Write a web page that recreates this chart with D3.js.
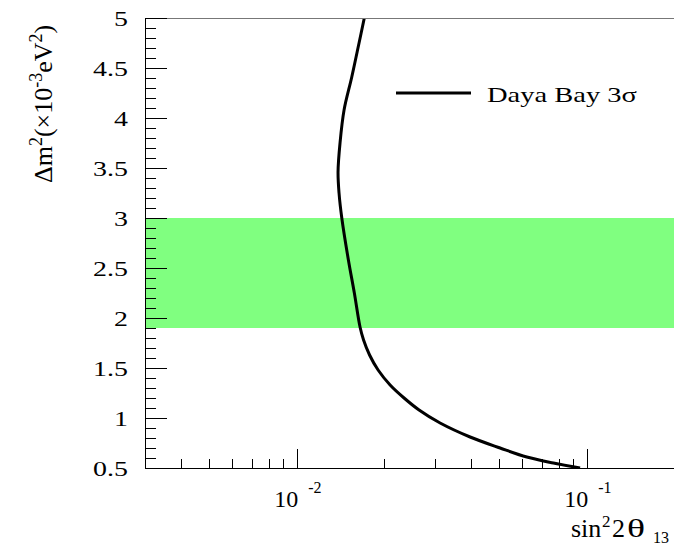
<!DOCTYPE html>
<html><head><meta charset="utf-8">
<script src="https://cdn.jsdelivr.net/npm/d3@7"></script>
<style>html,body{margin:0;padding:0;background:#fff;overflow:hidden}</style>
</head><body>
<script>
// ---- data ----
const curveX = [0.01711,0.01641,0.01549,0.01457,0.01411,0.01389,0.01400,0.01431,0.01508,0.01581,0.01654,0.01701,0.01784,0.01909,0.02100,0.02346,0.02643,0.03123,0.03963,0.05029,0.06216,0.07678,0.09489];
const curveY = [5.00,4.75,4.41,4.08,3.75,3.46,3.25,3.00,2.58,2.25,1.91,1.78,1.63,1.48,1.33,1.20,1.08,0.95,0.81,0.70,0.61,0.55,0.50];
const bandRange = [1.9, 3.0];
const xDomain = [0.003, 0.2];
const yDomain = [0.5, 5];
const yMajorTicks = [0.5,1,1.5,2,2.5,3,3.5,4,4.5,5];
const yTickLabels = ["0.5","1","1.5","2","2.5","3","3.5","4","4.5","5"];
const xMajorTicks = [0.01, 0.1];
const xTickExponents = ["-2","-1"];
const xMinorTicks = [0.004,0.005,0.006,0.007,0.008,0.009,0.02,0.03,0.04,0.05,0.06,0.07,0.08,0.09];
const legendLabel = "Daya Bay 3σ";

const W = 674, H = 546;
const L = 145, R = 674, T = 18, B = 468;
const svg = d3.select("body").append("svg").attr("width", W).attr("height", H)
  .style("font-family", "'Liberation Serif','Times New Roman',serif");

const x = d3.scaleLog().domain(xDomain).range([L, R]);
const y = d3.scaleLinear().domain(yDomain).range([B, T]);

svg.append("defs").append("clipPath").attr("id","clip")
  .append("rect").attr("x", L).attr("y", T).attr("width", R - L + 2).attr("height", B - T);

// band
svg.append("rect").attr("x", L).attr("width", R - L + 2)
  .attr("y", y(bandRange[1])).attr("height", y(bandRange[0]) - y(bandRange[1]))
  .attr("fill", "#80ff80");

// curve
const pts = curveX.map((v, i) => [v, curveY[i]]);
svg.append("path").datum(pts)
  .attr("clip-path", "url(#clip)")
  .attr("fill", "none").attr("stroke", "#000").attr("stroke-width", 3)
  .attr("stroke-linejoin", "round")
  .attr("d", d3.line().x(d => x(d[0])).y(d => y(d[1])).curve(d3.curveCatmullRom.alpha(0.5)));

// top frame
svg.append("line").attr("x1", L).attr("x2", W).attr("y1", T + 0.5).attr("y2", T + 0.5)
  .attr("stroke", "#777").attr("stroke-width", 1);

// y axis
const yMinor = d3.range(5, 51).map(d => d / 10);
function styleAxis(g){ g.selectAll("text").remove(); g.selectAll("path,line").attr("stroke","#000").attr("shape-rendering","crispEdges"); }
svg.append("g").attr("transform", `translate(${L},0)`)
  .call(d3.axisLeft(y).tickValues(yMinor).tickSize(-11).tickSizeOuter(0)).call(styleAxis);
svg.append("g").attr("transform", `translate(${L},0)`)
  .call(d3.axisLeft(y).tickValues(yMajorTicks).tickSize(-22).tickSizeOuter(0)).call(styleAxis);

// x axis
svg.append("g").attr("transform", `translate(0,${B})`)
  .call(d3.axisBottom(x).tickValues(xMinorTicks).tickSize(-9).tickSizeOuter(0)).call(styleAxis);
svg.append("g").attr("transform", `translate(0,${B})`)
  .call(d3.axisBottom(x).tickValues(xMajorTicks).tickSize(-19).tickSizeOuter(0)).call(styleAxis);

// y tick labels
yMajorTicks.forEach((v, i) => {
  svg.append("text").attr("transform", `translate(128,${y(v) + 8}) scale(1.33,1)`)
    .attr("text-anchor", "end").attr("font-size", 21).text(yTickLabels[i]);
});

// x tick labels
xMajorTicks.forEach((v, i) => {
  const px = x(v);
  svg.append("text").attr("x", px - 22.5).attr("y", 507).attr("font-size", 24).text("10");
  svg.append("text").attr("x", px + 11.5).attr("y", 493).attr("font-size", 16).text(xTickExponents[i]);
});

// x title
svg.append("text").attr("x", 571).attr("y", 537).attr("font-size", 26).text("sin");
svg.append("text").attr("x", 602).attr("y", 527).attr("font-size", 17).text("2");
svg.append("text").attr("x", 612).attr("y", 537).attr("font-size", 26).text("2");
svg.append("text").attr("transform", "translate(627,537) scale(1.45,1)").attr("font-size", 26).text("θ");
svg.append("text").attr("x", 653).attr("y", 543).attr("font-size", 16).text("13");

// y title
const yt = svg.append("text").attr("transform", "translate(52,183) rotate(-90)").attr("font-size", 26);
yt.append("tspan").text("Δm");
yt.append("tspan").attr("dy", -10).attr("font-size", 18).text("2");
yt.append("tspan").attr("dy", 10).text("(×10");
yt.append("tspan").attr("dy", -10).attr("font-size", 18).text("-3");
yt.append("tspan").attr("dy", 10).text("eV");
yt.append("tspan").attr("dy", -10).attr("font-size", 18).text("2");
yt.append("tspan").attr("dy", 10).text(")");

// legend
svg.append("line").attr("x1", 396).attr("x2", 471).attr("y1", 93).attr("y2", 93)
  .attr("stroke", "#000").attr("stroke-width", 3);
svg.append("text").attr("x", 487).attr("y", 102).attr("font-size", 22)
  .attr("textLength", 150).attr("lengthAdjust", "spacingAndGlyphs").text(legendLabel);
</script>
</body></html>
